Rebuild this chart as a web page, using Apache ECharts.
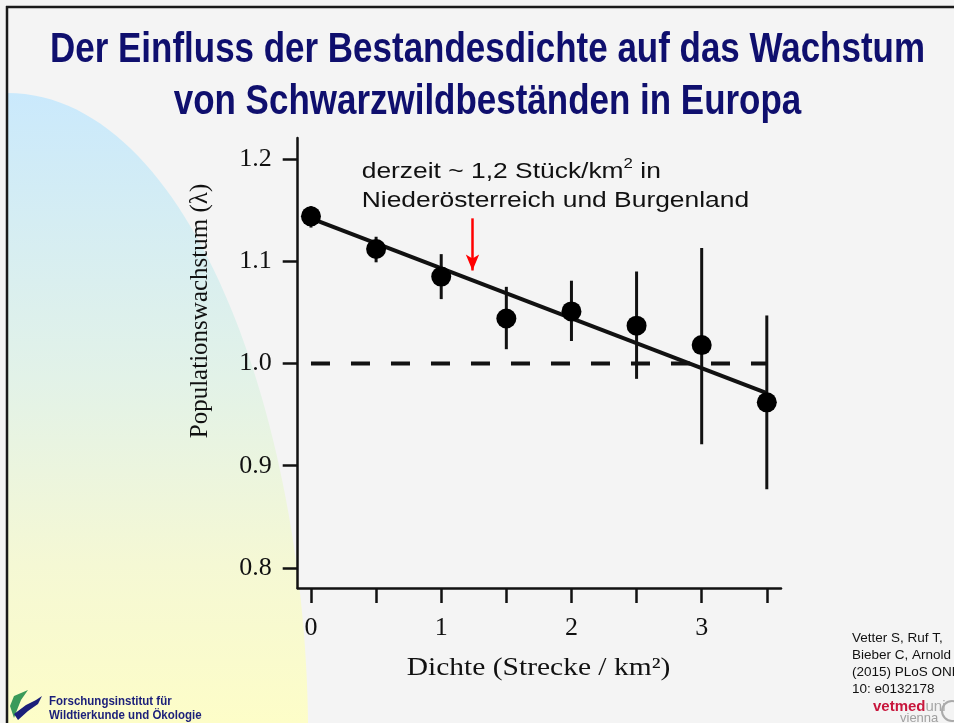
<!DOCTYPE html>
<html>
<head>
<meta charset="utf-8">
<script src="https://cdn.jsdelivr.net/npm/echarts@6/dist/echarts.min.js"></script>
<style>
  html, body { margin: 0; padding: 0; background: #f4f4f4; }
  #main { width: 954px; height: 723px; }
</style>
</head>
<body>
<div id="main"></div>
<script>
// Dichte (Strecke / km²) und Populationswachstum (lambda)
const dens = [0, 0.5, 1, 1.5, 2, 2.5, 3, 3.5];
const lambda = [1.144, 1.112, 1.085, 1.044, 1.051, 1.037, 1.018, 0.962];
const errHigh = [1.154, 1.124, 1.107, 1.075, 1.081, 1.090, 1.113, 1.047];
const errLow = [1.133, 1.099, 1.063, 1.014, 1.022, 0.985, 0.921, 0.877];

// Regressionsgerade und Referenzlinie lambda = 1
const fitX = [0, 3.5];
const fitY = [1.142, 0.971];
const refX = [0, 3.5];
const refY = [1, 1];

// Pfeil bei derzeitiger Dichte
const arrowX = 1.24;
const arrowY = [1.142, 1.091];

const xTicks = [0, 0.5, 1, 1.5, 2, 2.5, 3, 3.5];
const xLabels = [0, 1, 2, 3];
const yTicks = [0.8, 0.9, 1.0, 1.1, 1.2];

const titleLines = ['Der Einfluss der Bestandesdichte auf das Wachstum', 'von Schwarzwildbeständen in Europa'];
const citation = ['Vetter S, Ruf T,', 'Bieber C, Arnold W', '(2015) PLoS ONE', '10: e0132178'];

// Breite des Titels messen, damit er schmal wie im Original wird
const cv = document.createElement('canvas').getContext('2d');
cv.font = 'bold 42px "Liberation Sans"';
const titleScale = 875 / cv.measureText(titleLines[0]).width;

// Hintergrund-Bogen links (kubische Kurve abgetastet)
function bezierPts(p0, p1, p2, p3, n) {
  const pts = [];
  for (let i = 0; i <= n; i++) {
    const t = i / n, u = 1 - t;
    pts.push([
      u * u * u * p0[0] + 3 * u * u * t * p1[0] + 3 * u * t * t * p2[0] + t * t * t * p3[0],
      u * u * u * p0[1] + 3 * u * u * t * p1[1] + 3 * u * t * t * p2[1] + t * t * t * p3[1]
    ]);
  }
  return pts;
}
const arcPts = bezierPts([7, 93], [190, 93], [305, 420], [308, 723], 60).concat([[7, 723]]);

const chart = echarts.init(document.getElementById('main'));
const serif = '"Liberation Serif", "Times New Roman", serif';
const sans = '"Liberation Sans", Arial, sans-serif';

const option = {
  animation: false,
  backgroundColor: '#f4f4f4',
  grid: { left: 297.7, right: 173, top: 138, bottom: 135 },
  xAxis: {
    type: 'value',
    min: -0.102,
    max: 3.609,
    splitLine: { show: false },
    axisLine: { onZero: false, lineStyle: { color: '#111', width: 2.5 } },
    axisTick: { customValues: xTicks, length: 15, lineStyle: { color: '#111', width: 2.5 } },
    axisLabel: { customValues: xLabels, margin: 27, fontFamily: serif, fontSize: 26, color: '#111' }
  },
  yAxis: {
    type: 'value',
    min: 0.7804,
    max: 1.2206,
    splitLine: { show: false },
    axisLine: { onZero: false, lineStyle: { color: '#111', width: 2.5 } },
    axisTick: { customValues: yTicks, length: 15, lineStyle: { color: '#111', width: 2.5 } },
    axisLabel: {
      customValues: yTicks, margin: 26, fontFamily: serif, fontSize: 26, color: '#111',
      formatter: v => v.toFixed(1)
    }
  },
  graphic: [
    {
      type: 'polygon', z: -10, silent: true,
      shape: { points: arcPts },
      style: {
        fill: {
          type: 'linear', x: 0, y: 0, x2: 0, y2: 1,
          colorStops: [
            { offset: 0, color: '#cae9fc' },
            { offset: 0.45, color: '#e2f2e8' },
            { offset: 0.75, color: '#f5f8d4' },
            { offset: 1, color: '#fdfdc8' }
          ]
        }
      }
    },
    { type: 'line', silent: true, shape: { x1: 6, y1: 7, x2: 954, y2: 7 }, style: { stroke: '#1a1a1a', lineWidth: 2.5 } },
    { type: 'line', silent: true, shape: { x1: 7, y1: 6, x2: 7, y2: 723 }, style: { stroke: '#1a1a1a', lineWidth: 2.5 } },
    {
      type: 'text', x: 487.5, y: 50, scaleX: titleScale,
      style: { text: titleLines[0], font: 'bold 42px "Liberation Sans"', fill: '#0f0f6e', align: 'center', verticalAlign: 'middle' }
    },
    {
      type: 'text', x: 487.5, y: 102, scaleX: titleScale,
      style: { text: titleLines[1], font: 'bold 42px "Liberation Sans"', fill: '#0f0f6e', align: 'center', verticalAlign: 'middle' }
    },
    {
      type: 'text', x: 361.7, y: 157, scaleX: 1.2,
      style: {
        text: 'derzeit ~ 1,2 Stück/km{sup|2} in\nNiederösterreich und Burgenland',
        fontFamily: sans, fontSize: 22, lineHeight: 29.5, fill: '#111', align: 'left', verticalAlign: 'top',
        rich: { sup: { fontFamily: sans, fontSize: 14, lineHeight: 20, verticalAlign: 'top', fill: '#111' } }
      }
    },
    {
      type: 'text', x: 200, y: 311, rotation: Math.PI / 2,
      style: { text: 'Populationswachstum (λ)', fontFamily: serif, fontSize: 25, fill: '#111', align: 'center', verticalAlign: 'middle' }
    },
    {
      type: 'text', x: 538.5, y: 668, scaleX: 1.18,
      style: { text: 'Dichte (Strecke / km²)', fontFamily: serif, fontSize: 25, fill: '#111', align: 'center', verticalAlign: 'middle' }
    },
    {
      type: 'text', x: 852, y: 630,
      style: { text: citation.join('\n'), fontFamily: sans, fontSize: 13.5, lineHeight: 17, fill: '#111', align: 'left', verticalAlign: 'top' }
    },
    {
      type: 'text', x: 873, y: 707,
      style: {
        text: '{a|vetmed}{b|uni}', verticalAlign: 'middle',
        rich: {
          a: { fontFamily: sans, fontSize: 15, fontWeight: 'bold', fill: '#c8163c' },
          b: { fontFamily: sans, fontSize: 15, fill: '#a8a8a8' }
        }
      }
    },
    {
      type: 'text', x: 900, y: 718,
      style: { text: 'vienna', fontFamily: sans, fontSize: 13, fill: '#a0a0a0', verticalAlign: 'middle' }
    },
    { type: 'circle', shape: { cx: 952, cy: 711, r: 10 }, style: { fill: 'none', stroke: '#aaa', lineWidth: 2 } },
    {
      type: 'polygon', silent: true,
      shape: { points: [[14, 718], [10, 706], [14, 696], [28, 690], [21, 700], [17, 710]] },
      style: { fill: '#3a9a5a' }
    },
    {
      type: 'polygon', silent: true,
      shape: { points: [[14, 714], [26, 705], [36, 700], [42, 696], [38, 704], [28, 711], [18, 720]] },
      style: { fill: '#1b1f7a' }
    },
    {
      type: 'text', x: 49, y: 695, scaleX: 0.92,
      style: {
        text: 'Forschungsinstitut für\nWildtierkunde und Ökologie',
        font: 'bold 12.5px "Liberation Sans"', lineHeight: 14, fill: '#1b1f7a', align: 'left', verticalAlign: 'top'
      }
    }
  ],
  series: [
    {
      name: 'Referenz',
      type: 'line',
      data: refX.map((x, i) => [x, refY[i]]),
      symbol: 'none',
      lineStyle: { color: '#111', width: 4, type: [19, 21] },
      z: 2
    },
    {
      name: 'Regression',
      type: 'line',
      data: fitX.map((x, i) => [x, fitY[i]]),
      symbol: 'none',
      lineStyle: { color: '#111', width: 4 },
      z: 3,
      markLine: {
        silent: true,
        symbol: ['none', 'arrow'],
        symbolSize: [10, 16],
        label: { show: false },
        lineStyle: { color: '#ff0000', width: 2.5, type: 'solid' },
        data: [[{ coord: [arrowX, arrowY[0]] }, { coord: [arrowX, arrowY[1]] }]]
      }
    },
    {
      name: 'Fehler',
      type: 'custom',
      data: dens.map((d, i) => [d, errLow[i], errHigh[i]]),
      encode: { x: 0, y: [1, 2] },
      renderItem: function (params, api) {
        const top = api.coord([api.value(0), api.value(2)]);
        const bot = api.coord([api.value(0), api.value(1)]);
        return {
          type: 'line',
          shape: { x1: top[0], y1: top[1], x2: bot[0], y2: bot[1] },
          style: { stroke: '#111', lineWidth: 3 }
        };
      },
      z: 4
    },
    {
      name: 'Lambda',
      type: 'scatter',
      data: dens.map((d, i) => [d, lambda[i]]),
      symbolSize: 20,
      itemStyle: { color: '#000', opacity: 1 },
      z: 5
    }
  ]
};

chart.setOption(option);
</script>
</body>
</html>
